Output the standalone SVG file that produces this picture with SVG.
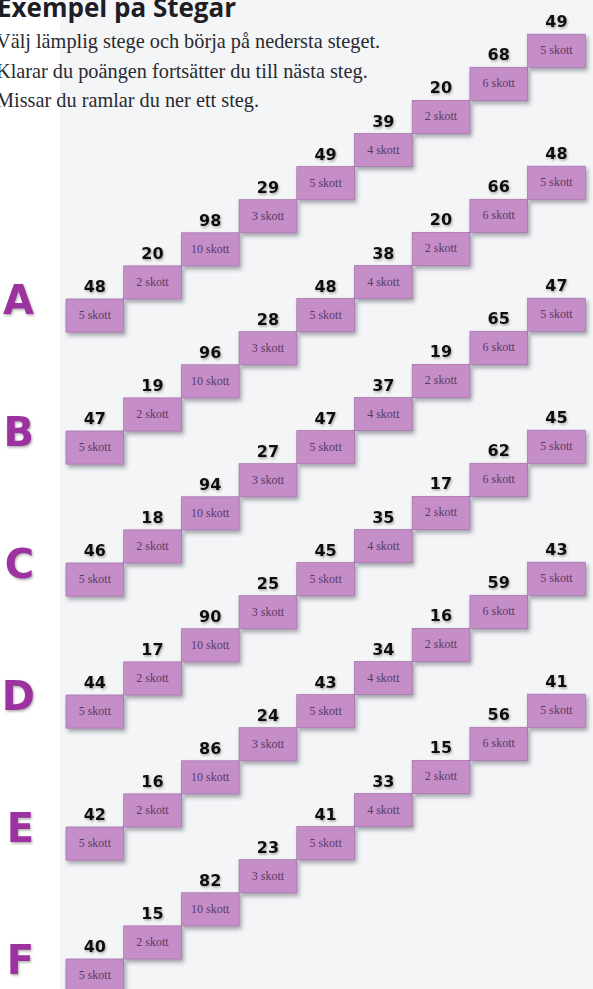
<svg xmlns="http://www.w3.org/2000/svg" width="593" height="989" viewBox="0 0 593 989">
<defs>
<filter id="sh" x="-20%" y="-20%" width="150%" height="160%">
<feDropShadow dx="2" dy="3" stdDeviation="2" flood-color="#3a3a4a" flood-opacity="0.45"/>
</filter>
<filter id="tsh" x="-30%" y="-30%" width="170%" height="170%">
<feDropShadow dx="1" dy="1.5" stdDeviation="1.2" flood-color="#555" flood-opacity="0.5"/>
</filter>
<style>
.box{fill:#c58ec9;stroke:#a977ae;stroke-width:0.8;filter:url(#sh)}
.num{font-family:"DejaVu Sans",sans-serif;font-weight:bold;font-size:16px;fill:#111;text-anchor:middle;filter:url(#tsh)}
.sk{font-family:"Liberation Serif",serif;font-size:12px;fill:#5a3a60;text-anchor:middle}
.let{font-family:"DejaVu Sans",sans-serif;font-weight:bold;font-size:40px;fill:#9b32a0;text-anchor:end;filter:url(#tsh)}
.body{font-family:"Liberation Serif",serif;font-size:20.3px;fill:#2a2a30}
.title{font-family:"Open Sans",sans-serif;font-weight:bold;font-size:26px;fill:#1e1e24}
</style>
</defs>
<rect x="0" y="0" width="593" height="989" fill="#ffffff"/>
<rect x="60" y="0" width="533" height="989" fill="#f3f5f7"/>
<g id="header">
<text class="title" x="-3" y="17">Exempel på Stegar</text>
<text class="body" x="-4" y="48">Välj lämplig stege och börja på nedersta steget.</text>
<text class="body" x="-4" y="78">Klarar du poängen fortsätter du till nästa steg.</text>
<text class="body" x="-4" y="107">Missar du ramlar du ner ett steg.</text>
</g>
<g id="letters">
<text class="let" x="34" y="314">A</text>
<text class="let" x="34" y="446">B</text>
<text class="let" x="34" y="578">C</text>
<text class="let" x="35" y="710">D</text>
<text class="let" x="34" y="842">E</text>
<text class="let" x="34" y="974">F</text>
</g>
<g id="ladderA" transform="translate(0,299)">
<g id="A1" transform="translate(66,0)"><rect class="box" width="57.7" height="33.1"/><text class="num" x="28.8" y="-7">48</text><text class="sk" x="28.8" y="20">5 skott</text></g>
<g id="A2" transform="translate(123.7,-33.1)"><rect class="box" width="57.7" height="33.1"/><text class="num" x="28.8" y="-7">20</text><text class="sk" x="28.8" y="20">2 skott</text></g>
<g id="A3" transform="translate(181.4,-66.2)"><rect class="box" width="57.7" height="33.1"/><text class="num" x="28.8" y="-7">98</text><text class="sk" x="28.8" y="20">10 skott</text></g>
<g id="A4" transform="translate(239.1,-99.3)"><rect class="box" width="57.7" height="33.1"/><text class="num" x="28.8" y="-7">29</text><text class="sk" x="28.8" y="20">3 skott</text></g>
<g id="A5" transform="translate(296.8,-132.4)"><rect class="box" width="57.7" height="33.1"/><text class="num" x="28.8" y="-7">49</text><text class="sk" x="28.8" y="20">5 skott</text></g>
<g id="A6" transform="translate(354.5,-165.5)"><rect class="box" width="57.7" height="33.1"/><text class="num" x="28.8" y="-7">39</text><text class="sk" x="28.8" y="20">4 skott</text></g>
<g id="A7" transform="translate(412.2,-198.6)"><rect class="box" width="57.7" height="33.1"/><text class="num" x="28.8" y="-7">20</text><text class="sk" x="28.8" y="20">2 skott</text></g>
<g id="A8" transform="translate(469.9,-231.7)"><rect class="box" width="57.7" height="33.1"/><text class="num" x="28.8" y="-7">68</text><text class="sk" x="28.8" y="20">6 skott</text></g>
<g id="A9" transform="translate(527.6,-264.8)"><rect class="box" width="57.7" height="33.1"/><text class="num" x="28.8" y="-7">49</text><text class="sk" x="28.8" y="20">5 skott</text></g>
</g>
<g id="ladderB" transform="translate(0,431)">
<g id="B1" transform="translate(66,0)"><rect class="box" width="57.7" height="33.1"/><text class="num" x="28.8" y="-7">47</text><text class="sk" x="28.8" y="20">5 skott</text></g>
<g id="B2" transform="translate(123.7,-33.1)"><rect class="box" width="57.7" height="33.1"/><text class="num" x="28.8" y="-7">19</text><text class="sk" x="28.8" y="20">2 skott</text></g>
<g id="B3" transform="translate(181.4,-66.2)"><rect class="box" width="57.7" height="33.1"/><text class="num" x="28.8" y="-7">96</text><text class="sk" x="28.8" y="20">10 skott</text></g>
<g id="B4" transform="translate(239.1,-99.3)"><rect class="box" width="57.7" height="33.1"/><text class="num" x="28.8" y="-7">28</text><text class="sk" x="28.8" y="20">3 skott</text></g>
<g id="B5" transform="translate(296.8,-132.4)"><rect class="box" width="57.7" height="33.1"/><text class="num" x="28.8" y="-7">48</text><text class="sk" x="28.8" y="20">5 skott</text></g>
<g id="B6" transform="translate(354.5,-165.5)"><rect class="box" width="57.7" height="33.1"/><text class="num" x="28.8" y="-7">38</text><text class="sk" x="28.8" y="20">4 skott</text></g>
<g id="B7" transform="translate(412.2,-198.6)"><rect class="box" width="57.7" height="33.1"/><text class="num" x="28.8" y="-7">20</text><text class="sk" x="28.8" y="20">2 skott</text></g>
<g id="B8" transform="translate(469.9,-231.7)"><rect class="box" width="57.7" height="33.1"/><text class="num" x="28.8" y="-7">66</text><text class="sk" x="28.8" y="20">6 skott</text></g>
<g id="B9" transform="translate(527.6,-264.8)"><rect class="box" width="57.7" height="33.1"/><text class="num" x="28.8" y="-7">48</text><text class="sk" x="28.8" y="20">5 skott</text></g>
</g>
<g id="ladderC" transform="translate(0,563)">
<g id="C1" transform="translate(66,0)"><rect class="box" width="57.7" height="33.1"/><text class="num" x="28.8" y="-7">46</text><text class="sk" x="28.8" y="20">5 skott</text></g>
<g id="C2" transform="translate(123.7,-33.1)"><rect class="box" width="57.7" height="33.1"/><text class="num" x="28.8" y="-7">18</text><text class="sk" x="28.8" y="20">2 skott</text></g>
<g id="C3" transform="translate(181.4,-66.2)"><rect class="box" width="57.7" height="33.1"/><text class="num" x="28.8" y="-7">94</text><text class="sk" x="28.8" y="20">10 skott</text></g>
<g id="C4" transform="translate(239.1,-99.3)"><rect class="box" width="57.7" height="33.1"/><text class="num" x="28.8" y="-7">27</text><text class="sk" x="28.8" y="20">3 skott</text></g>
<g id="C5" transform="translate(296.8,-132.4)"><rect class="box" width="57.7" height="33.1"/><text class="num" x="28.8" y="-7">47</text><text class="sk" x="28.8" y="20">5 skott</text></g>
<g id="C6" transform="translate(354.5,-165.5)"><rect class="box" width="57.7" height="33.1"/><text class="num" x="28.8" y="-7">37</text><text class="sk" x="28.8" y="20">4 skott</text></g>
<g id="C7" transform="translate(412.2,-198.6)"><rect class="box" width="57.7" height="33.1"/><text class="num" x="28.8" y="-7">19</text><text class="sk" x="28.8" y="20">2 skott</text></g>
<g id="C8" transform="translate(469.9,-231.7)"><rect class="box" width="57.7" height="33.1"/><text class="num" x="28.8" y="-7">65</text><text class="sk" x="28.8" y="20">6 skott</text></g>
<g id="C9" transform="translate(527.6,-264.8)"><rect class="box" width="57.7" height="33.1"/><text class="num" x="28.8" y="-7">47</text><text class="sk" x="28.8" y="20">5 skott</text></g>
</g>
<g id="ladderD" transform="translate(0,695)">
<g id="D1" transform="translate(66,0)"><rect class="box" width="57.7" height="33.1"/><text class="num" x="28.8" y="-7">44</text><text class="sk" x="28.8" y="20">5 skott</text></g>
<g id="D2" transform="translate(123.7,-33.1)"><rect class="box" width="57.7" height="33.1"/><text class="num" x="28.8" y="-7">17</text><text class="sk" x="28.8" y="20">2 skott</text></g>
<g id="D3" transform="translate(181.4,-66.2)"><rect class="box" width="57.7" height="33.1"/><text class="num" x="28.8" y="-7">90</text><text class="sk" x="28.8" y="20">10 skott</text></g>
<g id="D4" transform="translate(239.1,-99.3)"><rect class="box" width="57.7" height="33.1"/><text class="num" x="28.8" y="-7">25</text><text class="sk" x="28.8" y="20">3 skott</text></g>
<g id="D5" transform="translate(296.8,-132.4)"><rect class="box" width="57.7" height="33.1"/><text class="num" x="28.8" y="-7">45</text><text class="sk" x="28.8" y="20">5 skott</text></g>
<g id="D6" transform="translate(354.5,-165.5)"><rect class="box" width="57.7" height="33.1"/><text class="num" x="28.8" y="-7">35</text><text class="sk" x="28.8" y="20">4 skott</text></g>
<g id="D7" transform="translate(412.2,-198.6)"><rect class="box" width="57.7" height="33.1"/><text class="num" x="28.8" y="-7">17</text><text class="sk" x="28.8" y="20">2 skott</text></g>
<g id="D8" transform="translate(469.9,-231.7)"><rect class="box" width="57.7" height="33.1"/><text class="num" x="28.8" y="-7">62</text><text class="sk" x="28.8" y="20">6 skott</text></g>
<g id="D9" transform="translate(527.6,-264.8)"><rect class="box" width="57.7" height="33.1"/><text class="num" x="28.8" y="-7">45</text><text class="sk" x="28.8" y="20">5 skott</text></g>
</g>
<g id="ladderE" transform="translate(0,827)">
<g id="E1" transform="translate(66,0)"><rect class="box" width="57.7" height="33.1"/><text class="num" x="28.8" y="-7">42</text><text class="sk" x="28.8" y="20">5 skott</text></g>
<g id="E2" transform="translate(123.7,-33.1)"><rect class="box" width="57.7" height="33.1"/><text class="num" x="28.8" y="-7">16</text><text class="sk" x="28.8" y="20">2 skott</text></g>
<g id="E3" transform="translate(181.4,-66.2)"><rect class="box" width="57.7" height="33.1"/><text class="num" x="28.8" y="-7">86</text><text class="sk" x="28.8" y="20">10 skott</text></g>
<g id="E4" transform="translate(239.1,-99.3)"><rect class="box" width="57.7" height="33.1"/><text class="num" x="28.8" y="-7">24</text><text class="sk" x="28.8" y="20">3 skott</text></g>
<g id="E5" transform="translate(296.8,-132.4)"><rect class="box" width="57.7" height="33.1"/><text class="num" x="28.8" y="-7">43</text><text class="sk" x="28.8" y="20">5 skott</text></g>
<g id="E6" transform="translate(354.5,-165.5)"><rect class="box" width="57.7" height="33.1"/><text class="num" x="28.8" y="-7">34</text><text class="sk" x="28.8" y="20">4 skott</text></g>
<g id="E7" transform="translate(412.2,-198.6)"><rect class="box" width="57.7" height="33.1"/><text class="num" x="28.8" y="-7">16</text><text class="sk" x="28.8" y="20">2 skott</text></g>
<g id="E8" transform="translate(469.9,-231.7)"><rect class="box" width="57.7" height="33.1"/><text class="num" x="28.8" y="-7">59</text><text class="sk" x="28.8" y="20">6 skott</text></g>
<g id="E9" transform="translate(527.6,-264.8)"><rect class="box" width="57.7" height="33.1"/><text class="num" x="28.8" y="-7">43</text><text class="sk" x="28.8" y="20">5 skott</text></g>
</g>
<g id="ladderF" transform="translate(0,959)">
<g id="F1" transform="translate(66,0)"><rect class="box" width="57.7" height="33.1"/><text class="num" x="28.8" y="-7">40</text><text class="sk" x="28.8" y="20">5 skott</text></g>
<g id="F2" transform="translate(123.7,-33.1)"><rect class="box" width="57.7" height="33.1"/><text class="num" x="28.8" y="-7">15</text><text class="sk" x="28.8" y="20">2 skott</text></g>
<g id="F3" transform="translate(181.4,-66.2)"><rect class="box" width="57.7" height="33.1"/><text class="num" x="28.8" y="-7">82</text><text class="sk" x="28.8" y="20">10 skott</text></g>
<g id="F4" transform="translate(239.1,-99.3)"><rect class="box" width="57.7" height="33.1"/><text class="num" x="28.8" y="-7">23</text><text class="sk" x="28.8" y="20">3 skott</text></g>
<g id="F5" transform="translate(296.8,-132.4)"><rect class="box" width="57.7" height="33.1"/><text class="num" x="28.8" y="-7">41</text><text class="sk" x="28.8" y="20">5 skott</text></g>
<g id="F6" transform="translate(354.5,-165.5)"><rect class="box" width="57.7" height="33.1"/><text class="num" x="28.8" y="-7">33</text><text class="sk" x="28.8" y="20">4 skott</text></g>
<g id="F7" transform="translate(412.2,-198.6)"><rect class="box" width="57.7" height="33.1"/><text class="num" x="28.8" y="-7">15</text><text class="sk" x="28.8" y="20">2 skott</text></g>
<g id="F8" transform="translate(469.9,-231.7)"><rect class="box" width="57.7" height="33.1"/><text class="num" x="28.8" y="-7">56</text><text class="sk" x="28.8" y="20">6 skott</text></g>
<g id="F9" transform="translate(527.6,-264.8)"><rect class="box" width="57.7" height="33.1"/><text class="num" x="28.8" y="-7">41</text><text class="sk" x="28.8" y="20">5 skott</text></g>
</g>
</svg>
